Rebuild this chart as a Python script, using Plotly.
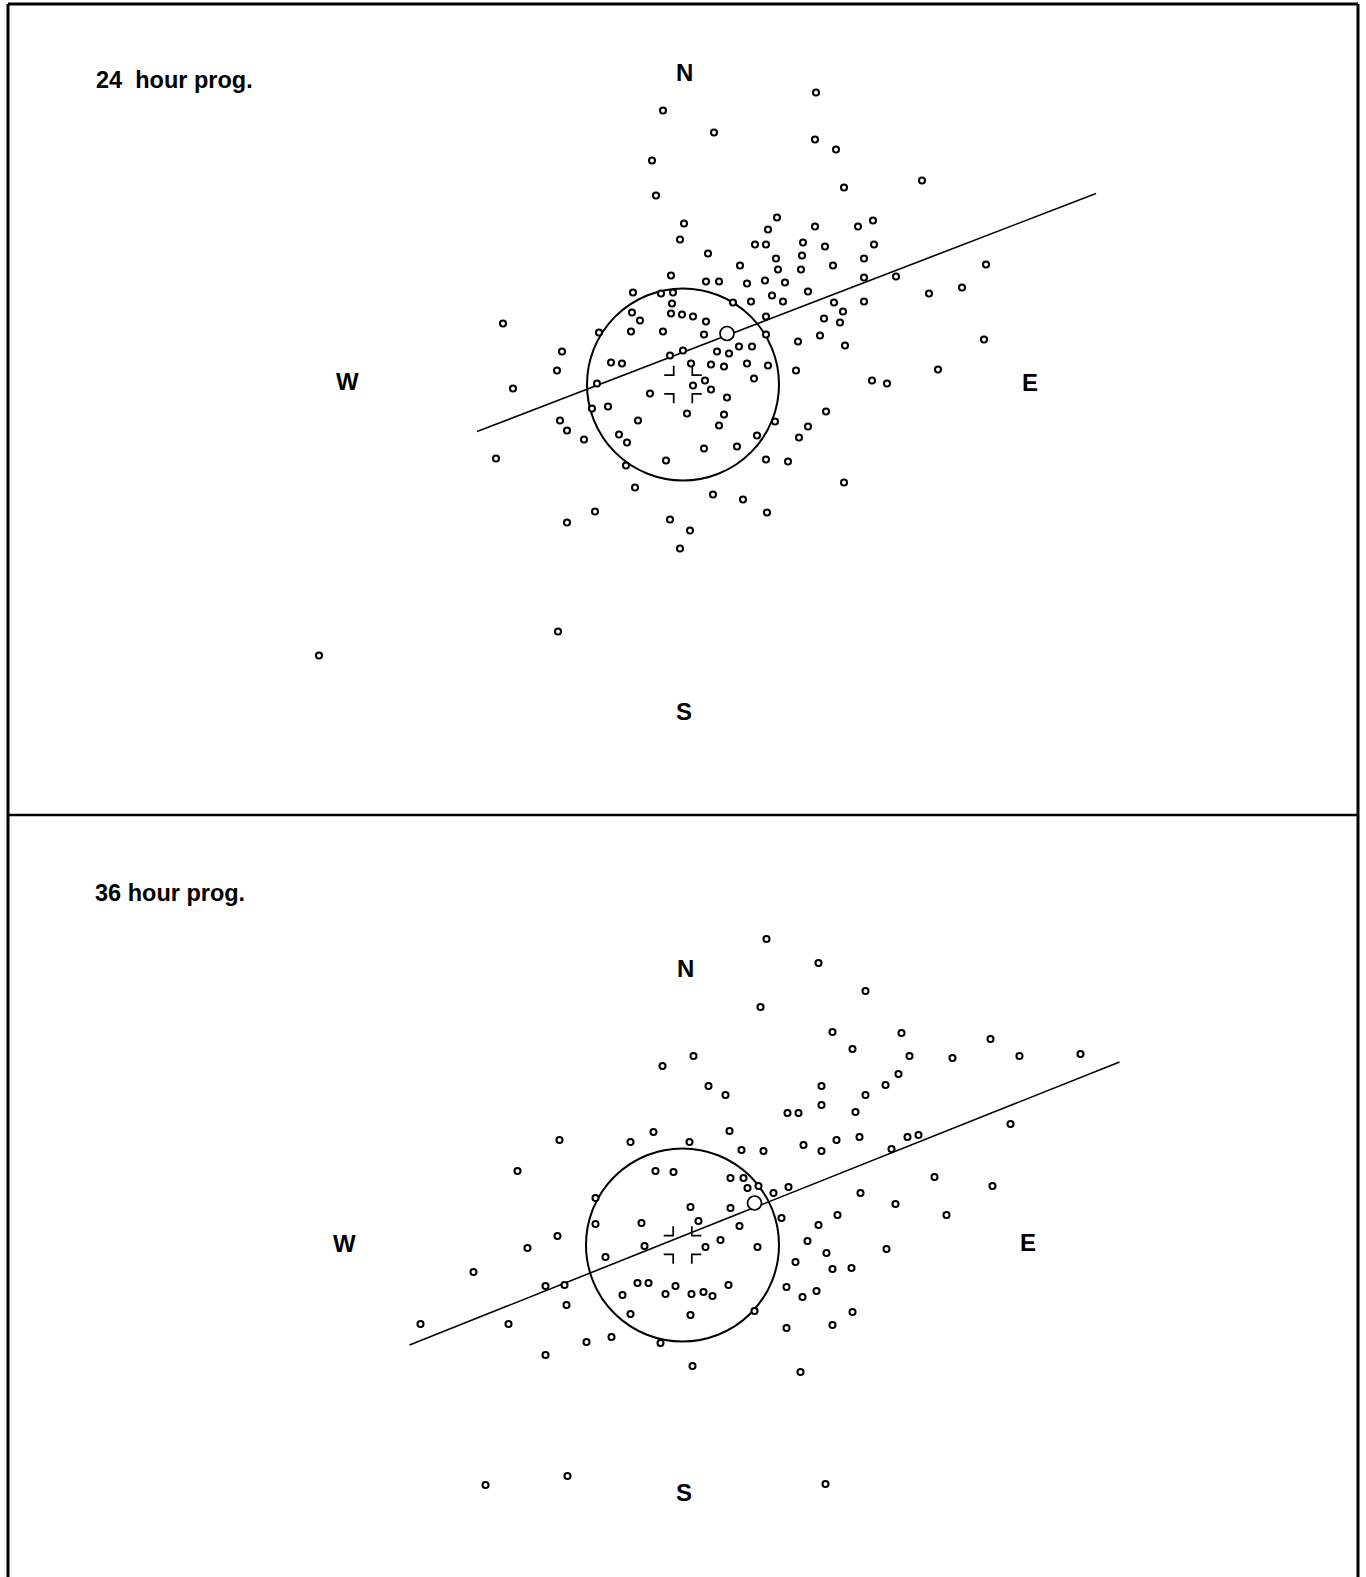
import numpy as np
import plotly.graph_objects as go

W, H = 1366, 1577
SPLIT = 815  # pixel row of the rule between the two panels

# ---------------- 24 hour prognosis: position errors (east, north offsets) ----------------
east_24 = [-20, 31, -31, -27, 1, -3, 94, 85, 72, 83, 25, 93, 95, 57, -12, 23, 36, 64, 82, 102,
           -50, -22, -10, -11, 89, 100, 68, 50, -51, -43, -12, -1, 10, 23, 83, -180, 133, 132, 153, 161,
           239, 132, 175, 190, 120, 142, 119, 191, 181, 118, 150, 125, 181, 213, 303, 246, 279, 151, 181, 160,
           141, 157, -84, -52, -20, 21, 83, 115, -121, -126, -170, -72, -61, -13, 0, 34, 46, 56, 69, 8,
           28, 41, 64, 85, 113, 71, 22, 10, 28, 44, -86, -33, -91, -75, 4, 41, 36, -45, -123, -116,
           -99, -64, -56, 92, 74, 116, 21, 54, 83, 105, -187, -57, -17, -48, 30, 60, 84, -88, -116, -13,
           7, -3, 137, 162, 301, 189, 204, 255, 143, 125, 161, -364, -125]
north_24 = [273, 251, 223, 188, 160, 144, 166, 154, 139, 139, 130, 125, 114, 118, 108, 102, 102, 100, 103, 101,
            91, 90, 91, 80, 88, 82, 82, 81, 71, 63, 70, 69, 67, 62, 67, 60, 291, 244, 234, 196,
            203, 157, 157, 163, 141, 137, 128, 139, 125, 114, 118, 92, 106, 107, 119, 90, 96, 81, 82, 72,
            65, 61, 51, 52, 52, 49, 49, 42, 32, 13, -5, 21, 20, 28, 33, 32, 30, 37, 37, 20,
            19, 17, 20, 18, 13, 5, 3, -2, -6, -14, 0, -10, -25, -23, -30, -31, -42, -37, -37, -47,
            -56, -51, -59, -38, -52, -54, -65, -63, -76, -78, -75, -82, -77, -104, -111, -116, -129, -128, -139, -136,
            -147, -165, 48, 38, 44, 3, 0, 14, -28, -43, -99, -272, -248]
fit_east_24 = [-206, 413]
fit_north_24 = [-48, 190]
mean_24 = [44, 50]
circle_24 = [0, -1, 96]          # centre east, centre north, radius

# ---------------- 36 hour prognosis ----------------
east_36 = [84, 136, 183, 78, 11, -20, 26, 43, 47, -29, -52, 7, -123, 59, -165, -27, -9, 48, 61, 150,
           219, 308, 170, 227, 270, 337, 398, 216, 203, 139, 183, 139, 105, 116, 173, 328, 81, 121, 139, 154,
           177, 225, 236, 209, 252, 65, 76, -87, 8, 48, -87, -41, 16, 57, -125, -155, -38, 23, 38, 75,
           -209, -77, -137, -118, -116, -45, -34, -60, -17, -7, 9, 21, 30, 46, -52, 8, 72, -262, -174, -71,
           -96, -22, -137, 10, -197, -115, 91, 106, 178, 213, 310, 264, 99, 136, 155, 125, 204, 144, 113, 150,
           169, 104, 120, 134, 170, 150, 104, 118, 143]
north_36 = [306, 282, 254, 238, 189, 179, 159, 150, 114, 113, 103, 103, 105, 95, 74, 74, 73, 67, 67, 213,
            212, 206, 196, 189, 187, 189, 191, 171, 160, 159, 150, 140, 132, 132, 133, 121, 94, 100, 94, 105,
            108, 108, 110, 96, 68, 57, 59, 47, 38, 37, 21, 22, 24, 19, 9, -3, -1, -2, 5, -2,
            -27, -12, -41, -40, -60, -38, -38, -50, -49, -41, -49, -47, -51, -40, -69, -70, -66, -79, -79, -92,
            -97, -98, -110, -121, -240, -231, 52, 58, 52, 41, 59, 30, 27, 20, 30, 4, -4, -8, -17, -24,
            -23, -42, -52, -46, -67, -80, -83, -127, -239]
fit_east_36 = [-273, 437]
fit_north_36 = [-100, 183]
mean_36 = [72, 42]
circle_36 = [0, 0, 96.5]

# visible window of each panel in offset units (one unit per screen pixel)
xr_24, yr_24 = [-683, 683], [-431.5, 383.5]
xr_36, yr_36 = [-682.5, 683.5], [-332, 430]

FONT = "Liberation Sans, Arial, Helvetica, sans-serif"
INK = "black"

fig = go.Figure()


def crosshair(cx, cy, gap=9.3, arm=9.5):
    xs, ys = [], []
    for sx in (-1, 1):
        for sy in (-1, 1):
            xs += [cx + sx * (gap + arm), cx + sx * gap, cx + sx * gap, None]
            ys += [cy + sy * gap, cy + sy * gap, cy + sy * (gap + arm), None]
    return xs, ys


def add_panel(xa, ya, east, north, fit_e, fit_n, mean, circ):
    # regression line through the error cloud
    fig.add_trace(go.Scatter(x=fit_e, y=fit_n, mode="lines", xaxis=xa, yaxis=ya,
                             line=dict(color=INK, width=1.6), hoverinfo="skip"))
    # crosshair marking the verifying position
    cxs, cys = crosshair(circ[0], circ[1])
    fig.add_trace(go.Scatter(x=cxs, y=cys, mode="lines", xaxis=xa, yaxis=ya,
                             line=dict(color=INK, width=1.7), hoverinfo="skip"))
    # individual forecast errors
    fig.add_trace(go.Scatter(x=east, y=north, mode="markers", xaxis=xa, yaxis=ya,
                             marker=dict(symbol="circle", size=6.0, color="white",
                                         line=dict(color=INK, width=2.1))))
    # mean error
    fig.add_trace(go.Scatter(x=[mean[0]], y=[mean[1]], mode="markers", xaxis=xa, yaxis=ya,
                             marker=dict(symbol="circle", size=14, color="white",
                                         line=dict(color=INK, width=1.7))))
    # circle of mean radial error
    cx, cy, r = circ
    fig.add_shape(type="circle", xref=xa, yref=ya, x0=cx - r, x1=cx + r, y0=cy - r, y1=cy + r,
                  line=dict(color=INK, width=2.0), layer="below")


add_panel("x", "y", east_24, north_24, fit_east_24, fit_north_24, mean_24, circle_24)
add_panel("x2", "y2", east_36, north_36, fit_east_36, fit_north_36, mean_36, circle_36)


def label(text, x, y, xa, ya, size=24, xanchor="center"):
    fig.add_annotation(text="<b>" + text + "</b>", x=x, y=y, xref=xa, yref=ya,
                       showarrow=False, xanchor=xanchor, yanchor="middle",
                       font=dict(family=FONT, size=size, color=INK))


# compass points and panel titles
label("N", 1, 311.5, "x", "y")
label("S", 1, -327.5, "x", "y")
label("W", -336, 2.5, "x", "y")
label("E", 347, 1.5, "x", "y")
label("24\u00a0 hour prog.", -589, 303.5, "x", "y", size=23.5, xanchor="left")

label("N", 2.5, 277, "x2", "y2")
label("S", 1, -247, "x2", "y2")
label("W", -338.5, 2, "x2", "y2")
label("E", 345.5, 3, "x2", "y2")
label("36 hour prog.", -589.5, 352, "x2", "y2", size=23.5, xanchor="left")

# outer frame and the rule between the panels
L, R, T = 8 / W, 1358 / W, 1 - 4 / H
mid = 1 - SPLIT / H
frame = dict(color=INK, width=3)
fig.add_shape(type="line", xref="paper", yref="paper", x0=L, x1=L, y0=0, y1=T, line=frame)
fig.add_shape(type="line", xref="paper", yref="paper", x0=R, x1=R, y0=0, y1=T, line=frame)
fig.add_shape(type="line", xref="paper", yref="paper", x0=L, x1=R, y0=T, y1=T, line=frame)
fig.add_shape(type="line", xref="paper", yref="paper", x0=L, x1=R, y0=mid, y1=mid,
              line=dict(color=INK, width=2.5))

hidden = dict(visible=False, showgrid=False, zeroline=False, fixedrange=True)
fig.update_layout(
    width=W, height=H,
    margin=dict(l=0, r=0, t=0, b=0),
    paper_bgcolor="white", plot_bgcolor="white",
    showlegend=False,
    xaxis=dict(domain=[0, 1], range=xr_24, anchor="y", **hidden),
    yaxis=dict(domain=[mid, 1], range=yr_24, anchor="x", **hidden),
    xaxis2=dict(domain=[0, 1], range=xr_36, anchor="y2", **hidden),
    yaxis2=dict(domain=[0, mid], range=yr_36, anchor="x2", **hidden),
)

fig.write_html("out.html")
